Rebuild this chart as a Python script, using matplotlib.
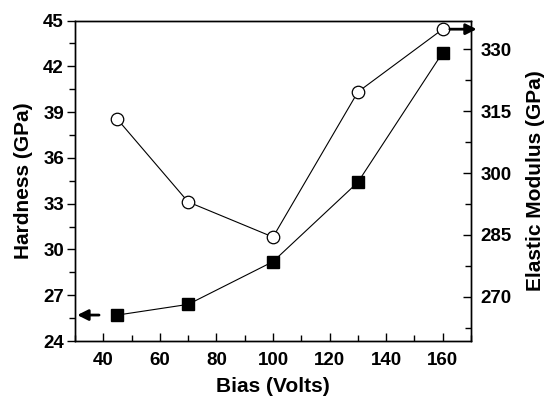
import matplotlib
matplotlib.use("Agg")
import matplotlib.pyplot as plt
from matplotlib.ticker import MultipleLocator

plt.rcParams['font.family'] = ['Liberation Sans', 'DejaVu Sans']
plt.rcParams['font.weight'] = 'bold'

bias = [45, 70, 100, 130, 160]
hardness = [25.7, 26.4, 29.2, 34.4, 42.9]
modulus = [313.0, 293.0, 284.5, 319.6, 334.8]

x_label = "Bias (Volts)"
y_left_label = "Hardness (GPa)"
y_right_label = "Elastic Modulus (GPa)"

fig = plt.figure(figsize=(5.48, 3.96), dpi=100)
ax = fig.add_axes([75/548, 1-341/396, (471-75)/548, (341-20.5)/396])
ax2 = ax.twinx()

ax.plot(bias, hardness, color='black', lw=0.8, marker='s', ms=8,
        mfc='black', mec='black', zorder=3)
ax2.plot(bias, modulus, color='black', lw=0.8, marker='o', ms=9,
         mfc='white', mec='black', mew=0.9, zorder=3)

ax.set_xlim(30, 170)
ax.set_ylim(24, 45)
ax2.set_ylim(259.35, 336.9)

ax.xaxis.set_major_locator(MultipleLocator(20))
ax.xaxis.set_minor_locator(MultipleLocator(10))
ax.yaxis.set_major_locator(MultipleLocator(3))
ax.yaxis.set_minor_locator(MultipleLocator(1.5))
ax2.yaxis.set_major_locator(MultipleLocator(15))
ax2.yaxis.set_minor_locator(MultipleLocator(7.5))

fs_tick = 13.5
ax.tick_params(axis='x', which='major', direction='in', length=6, width=1,
               labelsize=fs_tick, pad=8, top=False)
ax.tick_params(axis='x', which='minor', direction='in', length=4, width=1, top=False)
ax.tick_params(axis='y', which='major', direction='out', length=6, width=1,
               labelsize=fs_tick, pad=2)
ax.tick_params(axis='y', which='minor', direction='out', length=4, width=1)
ax2.tick_params(axis='y', which='major', direction='in', length=6, width=1,
                labelsize=fs_tick, pad=7)
ax2.tick_params(axis='y', which='minor', direction='in', length=4, width=1)

for a in (ax, ax2):
    for sp in a.spines.values():
        sp.set_linewidth(1.0)
    for lab in a.get_xticklabels() + a.get_yticklabels():
        lab.set_fontweight('bold')

ax.set_xlabel(x_label, fontsize=15, fontweight='bold', labelpad=6)
ax.set_ylabel(y_left_label, fontsize=15, fontweight='bold', labelpad=7)
ax2.set_ylabel(y_right_label, fontsize=15, fontweight='bold', labelpad=10)

arrow_props = dict(arrowstyle='-|>', color='black', lw=2.0, mutation_scale=16,
                   shrinkA=0, shrinkB=0)
ax.annotate('', xy=(30.8, hardness[0]), xytext=(38.5, hardness[0]),
            arrowprops=arrow_props, annotation_clip=False)
ax2.annotate('', xy=(172, modulus[-1]), xytext=(162.5, modulus[-1]),
             arrowprops=arrow_props, annotation_clip=False)

fig.savefig("out.png", dpi=100)
